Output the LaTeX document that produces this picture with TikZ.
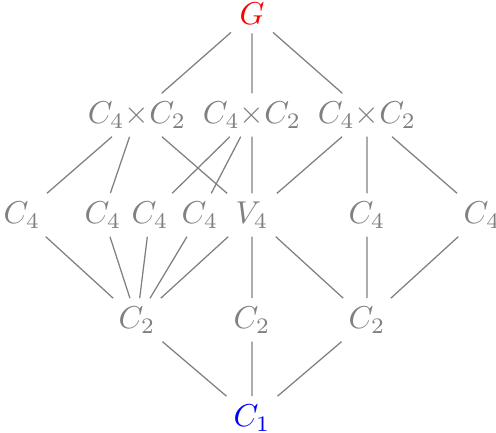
\documentclass[tikz,border=0pt]{standalone}
\usepackage{amsfonts,amssymb,amsmath}
\usepackage{xcolor}
\usepackage{tikz}
\begin{document}
\begin{tikzpicture}[every node/.style={text=gray,inner sep=2.5pt},grp/.style={draw=gray,line width=0.4pt}]
\useasboundingbox(0,0)rectangle(5.511,4.811);
\node[text=red](g)at(2.8,4.656){$G$};
\node(pa)at(1.522,3.533){$C_4{\times}C_2$};
\node(pb)at(2.8,3.533){$C_4{\times}C_2$};
\node(pc)at(4.078,3.533){$C_4{\times}C_2$};
\node(ca)at(0.244,2.422){$C_4$};
\node(cb)at(1.144,2.422){$C_4$};
\node(cc)at(1.667,2.422){$C_4$};
\node(cd)at(2.222,2.422){$C_4$};
\node(v)at(2.8,2.422){$V_4$};
\node(ce)at(4.078,2.422){$C_4$};
\node(cf)at(5.356,2.422){$C_4$};
\node(ta)at(1.522,1.256){$C_2$};
\node(tb)at(2.8,1.256){$C_2$};
\node(tc)at(4.078,1.256){$C_2$};
\node[text=blue](e)at(2.8,0.167){$C_1$};
% top levels
\draw[grp](g)--(pa) (g)--(pb) (g)--(pc);
\draw[grp](pa)--(ca) (pa)--(cb) (pa)--(v);
\draw[grp](pb)--(cc) (pb)--(cd) (pb)--(v);
\draw[grp](pc)--(v) (pc)--(ce) (pc)--(cf);
% lower levels
\draw[grp](ca)--(ta) (cb)--(ta) (cc)--(ta) (cd)--(ta) (v)--(ta);
\draw[grp](v)--(tb) (v)--(tc) (ce)--(tc) (cf)--(tc);
\draw[grp](ta)--(e) (tb)--(e) (tc)--(e);
\end{tikzpicture}
\end{document}
